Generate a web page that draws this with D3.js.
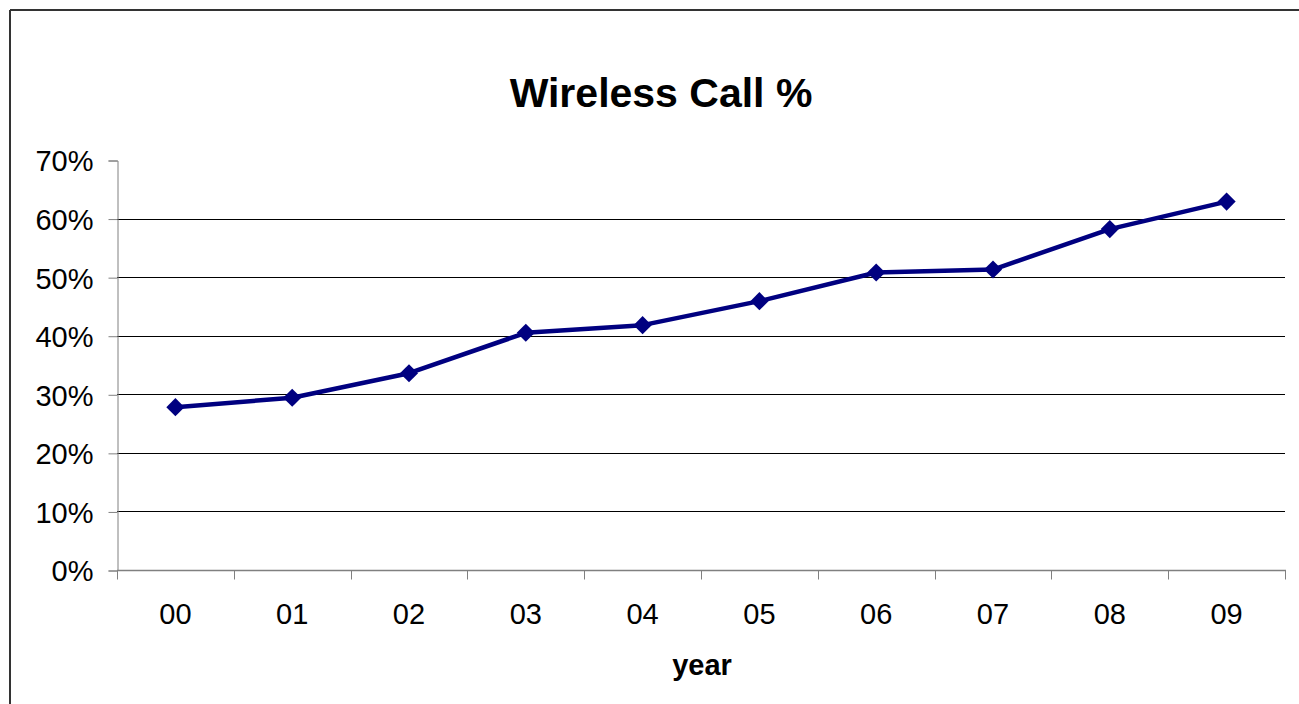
<!DOCTYPE html>
<html>
<head>
<meta charset="utf-8">
<script src="https://cdn.jsdelivr.net/npm/d3@7"></script>
<style>
  html, body { margin: 0; padding: 0; background: #fff; overflow: hidden; }
  svg { display: block; }
</style>
</head>
<body>
<svg id="chart" width="1299" height="704"></svg>
<script>
// Share of calls placed from wireless phones, by year
const years = ["00", "01", "02", "03", "04", "05", "06", "07", "08", "09"];
const wirelessShare = [0.278, 0.294, 0.336, 0.405, 0.418, 0.459, 0.508, 0.513, 0.582, 0.629];
const yTicks = [0, 0.1, 0.2, 0.3, 0.4, 0.5, 0.6, 0.7];

const svg = d3.select("#chart");
const font = "'Liberation Sans', Arial, sans-serif";

// chart frame: top and left edges (the rest runs past the page)
const frame = svg.append("g").attr("stroke", "#333").attr("stroke-width", 2);
frame.append("line").attr("x1", 10).attr("x2", 1299).attr("y1", 10).attr("y2", 10);
frame.append("line").attr("x1", 10).attr("x2", 10).attr("y1", 10).attr("y2", 704);

const plot = { left: 117, right: 1285, top: 160, bottom: 570 };

const x = d3.scaleBand().domain(years).range([plot.left, plot.right]).padding(0);
const y = d3.scaleLinear().domain([0, 0.7]).range([plot.bottom, plot.top]);

// horizontal gridlines
svg.append("g")
  .selectAll("line")
  .data(yTicks.filter(t => t > 0 && t < 0.7))
  .join("line")
  .attr("x1", plot.left).attr("x2", plot.right)
  .attr("y1", d => Math.round(y(d)) + 0.5)
  .attr("y2", d => Math.round(y(d)) + 0.5)
  .attr("stroke", "#000")
  .attr("stroke-width", 1);

// y axis
const yAxis = svg.append("g")
  .attr("transform", `translate(${plot.left + 0.5},0.5)`)
  .call(d3.axisLeft(y).tickValues(yTicks).tickFormat(d3.format(".0%")).tickSize(9).tickPadding(15));
yAxis.select(".domain").attr("stroke", "#808080");
yAxis.selectAll(".tick line").attr("stroke", "#808080");
yAxis.selectAll("text")
  .attr("font-family", font)
  .attr("font-size", 29)
  .attr("fill", "#000")
  .attr("dy", "0.36em");

// x axis with ticks on band boundaries
const xAxis = svg.append("g")
  .attr("transform", `translate(0,${plot.bottom + 0.5})`);
xAxis.append("line")
  .attr("x1", plot.left).attr("x2", plot.right + 1)
  .attr("stroke", "#808080").attr("stroke-width", 1.5);
const bounds = years.map(d => x(d)).concat([plot.right]);
xAxis.selectAll("line.tick")
  .data(bounds)
  .join("line")
  .attr("class", "tick")
  .attr("x1", d => Math.round(d) + 0.5).attr("x2", d => Math.round(d) + 0.5)
  .attr("y1", 0).attr("y2", 9)
  .attr("stroke", "#808080");
xAxis.selectAll("text")
  .data(years)
  .join("text")
  .attr("x", d => x(d) + x.bandwidth() / 2)
  .attr("y", 53)
  .attr("text-anchor", "middle")
  .attr("font-family", font)
  .attr("font-size", 29)
  .attr("fill", "#000")
  .text(d => d);

// series line
const line = d3.line()
  .x((d, i) => x(years[i]) + x.bandwidth() / 2)
  .y(d => y(d));

svg.append("path")
  .datum(wirelessShare)
  .attr("d", line)
  .attr("fill", "none")
  .attr("stroke", "#000080")
  .attr("stroke-width", 4.5)
  .attr("stroke-linejoin", "round");

// diamond markers
const diamond = d3.symbol().type(d3.symbolDiamond2).size(210);
svg.append("g")
  .selectAll("path")
  .data(wirelessShare)
  .join("path")
  .attr("transform", (d, i) => `translate(${x(years[i]) + x.bandwidth() / 2},${y(d)})`)
  .attr("d", diamond)
  .attr("fill", "#000080");

// title and axis label
svg.append("text")
  .attr("x", 661).attr("y", 107)
  .attr("text-anchor", "middle")
  .attr("font-family", font)
  .attr("font-weight", "bold")
  .attr("font-size", 41)
  .attr("fill", "#000")
  .text("Wireless Call %");

svg.append("text")
  .attr("x", 702).attr("y", 675)
  .attr("text-anchor", "middle")
  .attr("font-family", font)
  .attr("font-weight", "bold")
  .attr("font-size", 29)
  .attr("fill", "#000")
  .text("year");
</script>
</body>
</html>
